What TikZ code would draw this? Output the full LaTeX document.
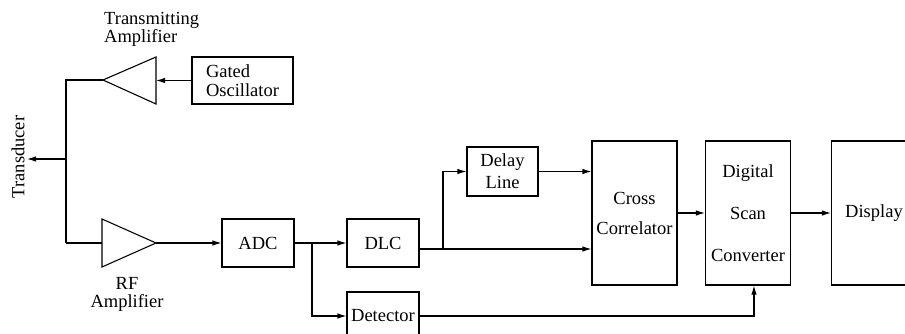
\documentclass[tikz,border=0pt]{standalone}
\usepackage{fontspec}
\setmainfont{Liberation Serif}
\usepackage{tikz}
\usetikzlibrary{arrows.meta, positioning, calc}

\begin{document}
\begin{tikzpicture}[
    x=1pt, y=-1pt,
    blockbox/.style={rectangle, draw=black, line width=1.1pt,
        inner sep=0pt, align=center,
        font=\fontsize{18.5}{19}\selectfont},
    tallbox/.style={blockbox, minimum width=85pt, minimum height=144pt},
    lbl/.style={inner sep=0pt, font=\fontsize{18.5}{18}\selectfont},
    sig/.style={-{Latex[length=9pt,width=5.5pt]}, line width=1.1pt},
    wire/.style={line width=1.1pt},
]

\useasboundingbox (0,0) rectangle (905,334);
\clip (0,0) rectangle (905,334);

% ── TRANSMIT PATH ───────────────────────────────────────────────────────────
\node[blockbox, minimum width=101pt, minimum height=47pt, align=left]
    at (242.5, 80.5) (osc) {Gated\\Oscillator};
\coordinate (txtip) at (103, 80);
\coordinate (txin)  at (156, 80.5);
\draw[wire] (txtip) -- (156, 57) -- (156, 104) -- cycle;
\node[lbl, align=left, anchor=west] at (104, 29) (txlbl)
    {Transmitting\\Amplifier};

\draw[sig] (osc.west) -- (txin);

% ── TRANSDUCER ──────────────────────────────────────────────────────────────
\coordinate (tdj) at (66, 159);
\node[lbl, rotate=90] at (18, 157) (tdlbl) {Transducer};
\coordinate (tdend) at (27, 159);
\draw[wire] (txtip) -- (66, 80) -- (66, 243);
\draw[sig] (tdj) -- (tdend);

% ── RECEIVE PATH ────────────────────────────────────────────────────────────
\coordinate (rfin)  at (102, 243);
\coordinate (rftip) at (156, 243);
\draw[wire] (rftip) -- (102, 219) -- (102, 267) -- cycle;
\draw[wire] (66, 243) -- (rfin);
\node[lbl, align=center] at (127, 294) (rflbl) {RF\\Amplifier};

\node[blockbox, minimum width=72pt, minimum height=48pt]
    at (258, 243) (adc) {ADC};
\node[blockbox, minimum width=72pt, minimum height=48pt]
    at (383, 243) (dlc) {DLC};
\node[blockbox, minimum width=72pt, minimum height=48pt]
    at (383, 316) (det) {Detector};
\node[blockbox, minimum width=71pt, minimum height=49pt]
    at (502.5, 171.5) (delay) {Delay\\[3pt]Line};

\draw[sig] (rftip) -- (adc.west);
\draw[sig] (adc.east) -- (dlc.west);
\draw[sig] (312, 243) |- (det.west);

% ── CORRELATION AND DISPLAY ─────────────────────────────────────────────────
\node[tallbox] at (634.5, 213) (cc) {Cross\\[11pt]Correlator};
\node[tallbox] at (748, 213) (dsc) {Digital\\[23pt]Scan\\[23pt]Converter};
\node[tallbox] at (874, 213) (disp) {Display};

\coordinate (dlcout) at ($(dlc.east)+(0,6)$);
\draw[sig] (dlcout) -- (cc.west |- dlcout);
\draw[sig] (443, 249) |- (delay.west);
\draw[sig] (delay.east) -- (cc.west |- delay.east);
\draw[sig] (cc.east) -- (dsc.west);
\draw[sig] (dsc.east) -- (disp.west);
\draw[sig] (det.east) -| ($(dsc.south)+(6,0)$);

\end{tikzpicture}
\end{document}
